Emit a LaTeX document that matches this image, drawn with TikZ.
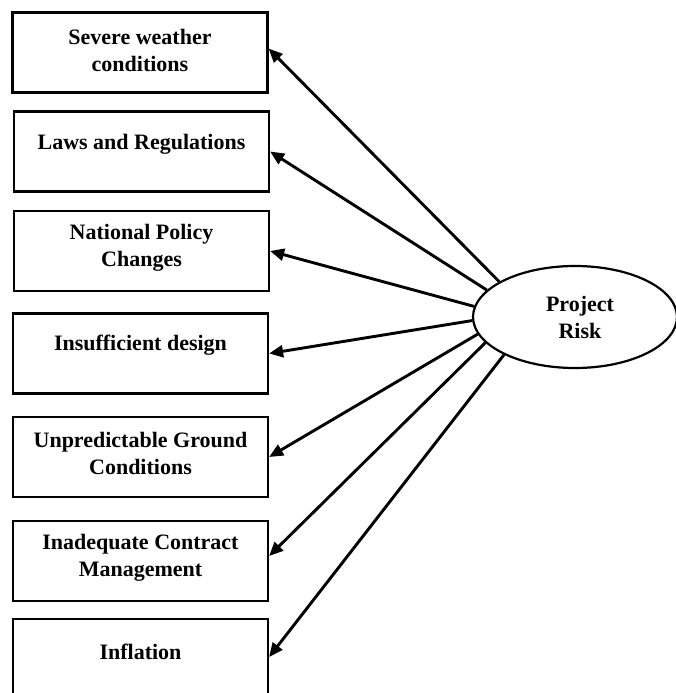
\documentclass[tikz,border=0pt]{standalone}
\usepackage{fontspec}
\setmainfont{Liberation Serif}
\usetikzlibrary{arrows.meta,shapes.geometric}

\tikzset{
  riskbox/.style={draw, line width=2.2pt, rectangle, minimum width=255pt, minimum height=80pt, inner sep=0pt},
  boxtext/.style={align=center, font=\bfseries\fontsize{22}{27}\selectfont, inner sep=0pt},
  riskhub/.style={draw, line width=2.2pt, ellipse, minimum width=204pt, minimum height=102pt, inner sep=0pt},
  link/.style={line width=2.9pt, -{Triangle[length=14pt,width=12pt]}}
}

\begin{document}
\begin{tikzpicture}[x=1pt, y=-1pt]
  \clip (0,0) rectangle (676,693);
  \fill[white] (0,0) rectangle (676,693);

  % factor boxes
  \node[riskbox] (b1) at (140,52.5) {};
  \node[riskbox] (b2) at (141.5,151.5) {};
  \node[riskbox] (b3) at (141.5,251) {};
  \node[riskbox] (b4) at (140.5,353.5) {};
  \node[riskbox] (b5) at (140.5,457) {};
  \node[riskbox] (b6) at (140.5,561) {};
  \node[riskbox] (b7) at (140.5,659) {};

  % box captions
  \node[boxtext] (t1) at (140,50) {Severe weather\\conditions};
  \node[boxtext] (t2) at (141.5,144) {Laws and Regulations};
  \node[boxtext] (t3) at (141.5,247.5) {National Policy\\Changes};
  \node[boxtext] (t4) at (140.5,345) {Insufficient design};
  \node[boxtext] (t5) at (140.5,453.5) {Unpredictable Ground\\Conditions};
  \node[boxtext] (t6) at (140.5,557.5) {Inadequate Contract\\Management};
  \node[boxtext] (t7) at (140.5,652) {Inflation};

  % central risk
  \node[riskhub] (e) at (575,317) {};
  \node[boxtext] (te) at (580,317) {Project\\Risk};

  % connectors
  \draw[link] (e.155) -- ([yshift=4pt]b1.east);
  \draw[link] (e.163) -- (b2.east);
  \draw[link] (e.174) -- (b3.east);
  \draw[link] (e.182) -- (b4.east);
  \draw[link] (e.190) -- (b5.east);
  \draw[link] (e.196.5) -- ([yshift=5pt]b6.east);
  \draw[link] (e.208) -- ([yshift=2pt]b7.east);
\end{tikzpicture}
\end{document}
